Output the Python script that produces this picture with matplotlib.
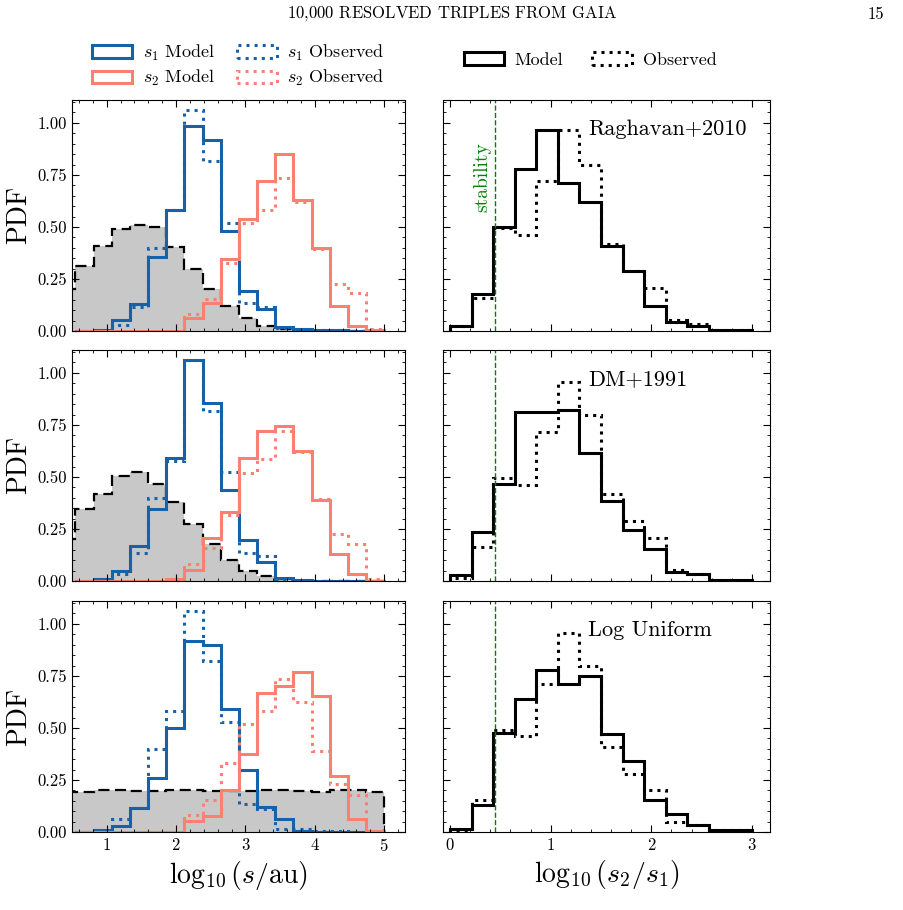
import numpy as np
import matplotlib.pyplot as plt
from matplotlib.patches import Patch

plt.rcParams['font.family'] = 'serif'
plt.rcParams['font.serif'] = ['cmr10', 'DejaVu Serif']
plt.rcParams['mathtext.fontset'] = 'cm'
plt.rcParams['axes.formatter.use_mathtext'] = True

# bins of log10(s/au) and log10(s2/s1)
s_edges = np.linspace(0.55, 5.0, 18)
inner_edges = np.concatenate([[0.288], s_edges])
r_edges = np.linspace(0, 3, 15)

# inner-binary (gray) distributions per row
inner_pdf = [
    [0.2, 0.313, 0.41, 0.49, 0.51, 0.50, 0.405, 0.30, 0.204, 0.12, 0.064, 0.024, 0.008, 0, 0, 0, 0, 0],
    [0.2, 0.344, 0.416, 0.504, 0.525, 0.467, 0.38, 0.275, 0.176, 0.10, 0.05, 0.024, 0.008, 0, 0, 0, 0, 0],
    [0.19, 0.19, 0.2, 0.2, 0.195, 0.195, 0.2, 0.2, 0.195, 0.195, 0.195, 0.2, 0.2, 0.195, 0.19, 0.2, 0.2, 0.19],
]
s1_model = [
    [0, 0.003, 0.053, 0.13, 0.354, 0.58, 0.985, 0.92, 0.48, 0.19, 0.105, 0.02, 0.008, 0.003, 0.003, 0.002, 0.001],
    [0, 0.01, 0.048, 0.168, 0.344, 0.59, 1.06, 0.856, 0.437, 0.195, 0.093, 0.016, 0.005, 0.002, 0.002, 0.001, 0],
    [0, 0.01, 0.03, 0.117, 0.26, 0.50, 0.92, 0.90, 0.59, 0.30, 0.12, 0.064, 0.005, 0.002, 0.002, 0.001, 0],
]
s1_obs = [
    [0, 0, 0.027, 0.113, 0.40, 0.58, 1.06, 0.815, 0.52, 0.133, 0.117, 0.016, 0.008, 0.003, 0.003, 0.002, 0.001],
    [0, 0, 0.032, 0.136, 0.397, 0.576, 1.06, 0.816, 0.525, 0.136, 0.12, 0.008, 0.005, 0.002, 0.002, 0.001, 0],
    [0, 0, 0.064, 0.117, 0.40, 0.58, 1.06, 0.82, 0.53, 0.133, 0.112, 0.016, 0.013, 0.003, 0.003, 0.002, 0],
]
s2_model = [
    [0, 0, 0, 0, 0, 0, 0.064, 0.133, 0.345, 0.54, 0.72, 0.85, 0.63, 0.40, 0.12, 0.024, 0.003],
    [0, 0, 0, 0, 0, 0.008, 0.053, 0.205, 0.33, 0.592, 0.72, 0.744, 0.624, 0.39, 0.128, 0.032, 0.002],
    [0, 0, 0, 0, 0, 0, 0.053, 0.077, 0.20, 0.374, 0.67, 0.70, 0.767, 0.655, 0.27, 0.064, 0.005],
]
s2_obs = [
    [0, 0, 0, 0, 0, 0, 0.08, 0.153, 0.326, 0.518, 0.58, 0.735, 0.622, 0.394, 0.225, 0.185, 0.008],
    [0, 0, 0, 0, 0, 0, 0.08, 0.157, 0.317, 0.52, 0.584, 0.723, 0.62, 0.392, 0.227, 0.18, 0.008],
    [0, 0, 0, 0, 0, 0, 0.08, 0.154, 0.33, 0.52, 0.583, 0.735, 0.623, 0.39, 0.23, 0.18, 0.005],
]
ratio_model = [
    [0.024, 0.177, 0.50, 0.78, 0.968, 0.71, 0.62, 0.41, 0.29, 0.12, 0.043, 0.024, 0.004, 0.003],
    [0.029, 0.237, 0.467, 0.81, 0.81, 0.82, 0.616, 0.384, 0.245, 0.152, 0.045, 0.032, 0.005, 0.004],
    [0.016, 0.13, 0.477, 0.64, 0.78, 0.71, 0.75, 0.47, 0.34, 0.156, 0.085, 0.032, 0.011, 0.008],
]
ratio_obs = [
    [0.024, 0.16, 0.495, 0.46, 0.72, 0.968, 0.80, 0.42, 0.29, 0.205, 0.053, 0.032, 0.004, 0.003],
    [0.016, 0.165, 0.496, 0.46, 0.715, 0.957, 0.80, 0.416, 0.288, 0.208, 0.051, 0.035, 0.005, 0.004],
    [0.011, 0.156, 0.49, 0.46, 0.71, 0.955, 0.80, 0.41, 0.28, 0.20, 0.048, 0.035, 0.011, 0.008],
]
row_labels = ['Raghavan+2010', 'DM+1991', 'Log Uniform']
stability = 0.45

blue = '#1761a8'
salmon = '#fa8072'
lw = 2.2

fig = plt.figure(figsize=(9.04, 9.10), dpi=100)
W, H = 904, 910
lefts = [72, 443]
widths = [333, 327]
tops = [100, 350, 601]
height = 231

for i in range(3):
    axl = fig.add_axes([lefts[0] / W, 1 - (tops[i] + height) / H, widths[0] / W, height / H])
    axr = fig.add_axes([lefts[1] / W, 1 - (tops[i] + height) / H, widths[1] / W, height / H])

    axl.stairs(inner_pdf[i], inner_edges, fill=True, color='#c8c8c8', lw=0)
    axl.stairs(inner_pdf[i], inner_edges, color='k', ls=(0, (5, 2.5)), lw=1.6)
    axl.stairs(s1_model[i], s_edges, color=blue, lw=lw)
    axl.stairs(s1_obs[i], s_edges, color=blue, ls=':', lw=lw)
    axl.stairs(s2_model[i], s_edges, color=salmon, lw=lw)
    axl.stairs(s2_obs[i], s_edges, color=salmon, ls=':', lw=lw)
    axl.set_xlim(0.5, 5.3)
    axl.set_ylim(0, 1.11)
    axl.set_yticks([0, 0.25, 0.5, 0.75, 1.0])
    axl.set_yticklabels(['0.00', '0.25', '0.50', '0.75', '1.00'])
    axl.set_ylabel('PDF', fontsize=20)

    axr.stairs(ratio_model[i], r_edges, color='k', lw=lw)
    axr.stairs(ratio_obs[i], r_edges, color='k', ls=':', lw=lw)
    axr.axvline(stability, color='green', ls='--', lw=1)
    axr.set_xlim(-0.07, 3.18)
    axr.set_ylim(0, 1.11)
    axr.set_yticks([0, 0.25, 0.5, 0.75, 1.0])
    axr.set_yticklabels([])
    axr.text(1.37, 0.97, row_labels[i], ha='left', va='center', fontsize=16,
             bbox=dict(facecolor='white', edgecolor='none', pad=0.5))
    if i == 0:
        axr.text(stability - 0.04, 0.74, 'stability', rotation=90, color='green', ha='right', va='center',
                 fontsize=14)

    for ax in (axl, axr):
        ax.minorticks_on()
        ax.tick_params(which='both', direction='in', top=True, right=True, labelsize=12)
        ax.tick_params(which='major', length=5)
        ax.tick_params(which='minor', length=2.5)
        if i < 2:
            ax.set_xticklabels([])
    if i == 2:
        axl.set_xticks([1, 2, 3, 4, 5])
        axr.set_xticks([0, 1, 2, 3])
        axl.set_xlabel(r'$\log_{10}(s/\mathrm{au})$', fontsize=20)
        axr.set_xlabel(r'$\log_{10}(s_2/s_1)$', fontsize=20)
    if i == 0:
        hl = [Patch(facecolor='none', edgecolor=blue, lw=lw, label=r'$s_1$ Model'),
              Patch(facecolor='none', edgecolor=salmon, lw=lw, label=r'$s_2$ Model'),
              Patch(facecolor='none', edgecolor=blue, ls=':', lw=lw, label=r'$s_1$ Observed'),
              Patch(facecolor='none', edgecolor=salmon, ls=':', lw=lw, label=r'$s_2$ Observed')]
        axl.legend(handles=hl, ncol=2, loc='lower center', bbox_to_anchor=(0.5, 0.98), frameon=False,
                   fontsize=13, handlelength=2.2, columnspacing=1.2, handletextpad=0.6, labelspacing=0.3)
        hr = [Patch(facecolor='none', edgecolor='k', lw=lw, label='Model'),
              Patch(facecolor='none', edgecolor='k', ls=':', lw=lw, label='Observed')]
        axr.legend(handles=hr, ncol=2, loc='lower center', bbox_to_anchor=(0.45, 1.07), frameon=False,
                   fontsize=13, handlelength=2.2, columnspacing=1.6, handletextpad=0.6)

fig.text(0.5, 1 - 14 / H, r'10,000 R$\mathrm{ESOLVED}$ T$\mathrm{RIPLES\ FROM}$ G$\mathrm{AIA}$',
         ha='center', va='center', fontsize=12)
fig.text(1 - 20 / W, 1 - 14 / H, '15', ha='right', va='center', fontsize=12)

fig.savefig('out.png', dpi=100)
